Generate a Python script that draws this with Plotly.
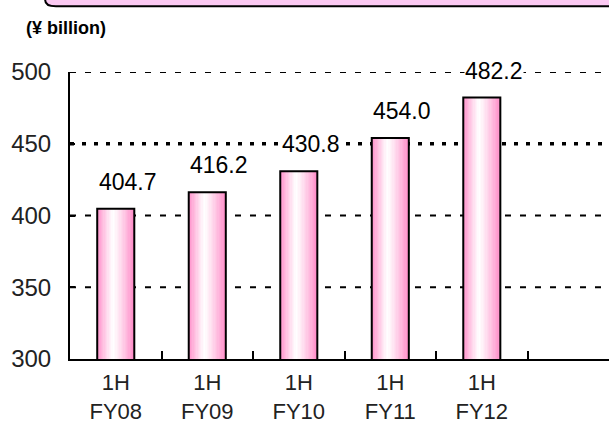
import plotly.graph_objects as go

# Half-year results, ¥ billion
periods = ["1H<br>FY08", "1H<br>FY09", "1H<br>FY10", "1H<br>FY11", "1H<br>FY12"]
values = [404.7, 416.2, 430.8, 454.0, 482.2]
value_labels = ["404.7", "416.2", "430.8", "454.0", "482.2"]

y_ticks = [300, 350, 400, 450, 500]
grid_levels = [350, 400, 450, 500]

FONT = "Liberation Sans"
BAR_W = 0.405
N_STRIPS = 28
PINK = (255, 140, 200)


def strip_color(t):
    # white highlight slightly left of centre, pink towards both edges
    c = 0.44
    d = abs(t - c) / (c if t < c else 1 - c)
    f = min(1.0, d ** 1.15)
    r, g, b = [round(255 + (p - 255) * f) for p in PINK]
    return f"rgb({r},{g},{b})"


fig = go.Figure()

step = BAR_W / N_STRIPS
for i in range(N_STRIPS):
    t = (i + 0.5) / N_STRIPS
    fig.add_trace(go.Bar(
        x=periods, y=values,
        width=step * 1.08, offset=-BAR_W / 2 + i * step,
        marker=dict(color=strip_color(t), line=dict(width=0)),
        hoverinfo="skip", showlegend=False,
    ))

# outline of each bar
fig.add_trace(go.Bar(
    x=periods, y=values, width=BAR_W, offset=-BAR_W / 2,
    marker=dict(color="rgba(0,0,0,0)", line=dict(color="black", width=2)),
    showlegend=False,
))

# value labels above bars, starting at the bar's left edge
for p, v, lab in zip(periods, values, value_labels):
    fig.add_annotation(
        x=p, y=v, text=lab, showarrow=False,
        xanchor="left", xshift=-18, yanchor="bottom", yshift=13,
        bgcolor="white", borderpad=0,
        font=dict(family=FONT, size=23, color="black"),
    )

# dashed gridlines; the 450 level is heavier
for lvl in grid_levels:
    heavy = lvl == 450
    fig.add_shape(
        type="line", xref="paper", yref="y", x0=0, x1=1, y0=lvl, y1=lvl,
        layer="below",
        line=dict(color="black", width=3.5 if heavy else 2,
                  dash="4px,8px" if heavy else "6px,9px"),
    )

# pink header panel across the top
fig.add_shape(
    type="path", xref="paper", yref="paper", layer="above",
    path="M -0.046,1.40 L -0.046,1.250 Q -0.046,1.229 -0.026,1.229 L 1.1,1.229 L 1.1,1.40 Z",
    fillcolor="#fbc9f2", line=dict(color="black", width=2),
)

fig.add_annotation(
    text="(¥ billion)", xref="paper", yref="paper", x=-0.085, y=1.155,
    xanchor="left", yanchor="middle", showarrow=False,
    font=dict(family="Liberation Sans", size=18, color="black", weight="bold"),
)

fig.update_layout(
    width=609, height=424,
    margin=dict(l=70, r=0, t=72, b=62),
    paper_bgcolor="white", plot_bgcolor="white",
    barmode="overlay",
    showlegend=False,
    xaxis=dict(
        type="category", range=[-0.5, 5.39],
        showline=True, linecolor="black", linewidth=2,
        ticks="inside", ticklen=8, tickwidth=1.5, tickcolor="black",
        tickson="boundaries", showgrid=False, ticklabelstandoff=3,
        tickfont=dict(family=FONT, size=22, color="#222"),
    ),
    yaxis=dict(
        range=[300, 500], tickvals=y_ticks,
        showline=True, linecolor="black", linewidth=2,
        ticks="inside", ticklen=5, tickwidth=2, tickcolor="black",
        ticklabelstandoff=12,
        showgrid=False, zeroline=False,
        tickfont=dict(family=FONT, size=24, color="#222"),
    ),
)

fig.write_html("out.html")
